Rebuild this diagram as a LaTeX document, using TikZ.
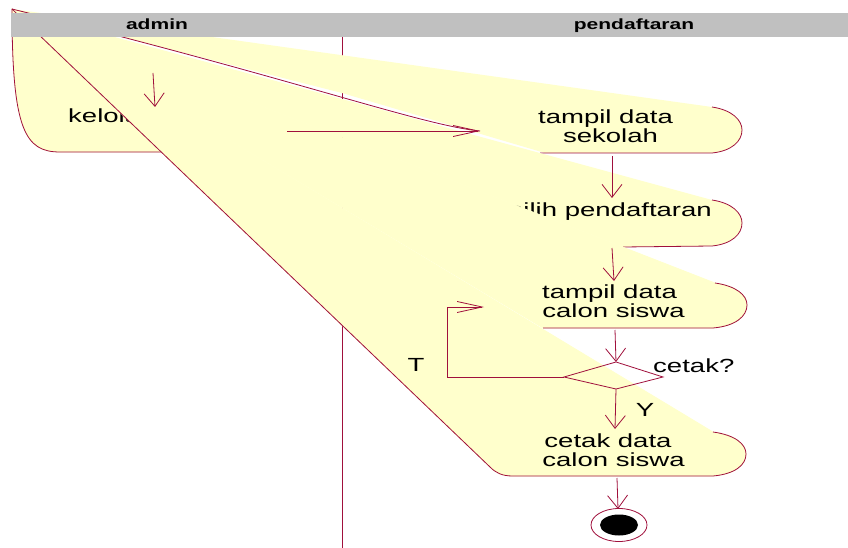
\documentclass[tikz,border=0pt]{standalone}
\usepackage{fontspec}
\setmainfont{Liberation Sans}
\newfontfamily\bodyfont[FakeStretch=1.45]{Liberation Sans}
\newfontfamily\headfont[FakeStretch=1.42]{Liberation Sans}
\usetikzlibrary{arrows.meta}
\definecolor{rose}{RGB}{160,16,60}
\definecolor{act}{RGB}{255,255,204}
\definecolor{hdr}{RGB}{192,192,192}
\begin{document}
\begin{tikzpicture}[x=1pt,y=-1pt,
  line/.style={draw=rose,line width=0.8pt},
  actfill/.style={fill=act,draw=act,line width=0.7pt,line join=round},
  vflow/.style={line,-{Straight Barb[length=13pt,width=20pt]}},
  hflow/.style={line,-{Straight Barb[length=25pt,width=11pt]}},
  txt/.style={font=\bodyfont\fontsize{19}{20}\selectfont,inner sep=0pt,anchor=base},
  hdrtxt/.style={font=\headfont\bfseries\fontsize{14.8}{16}\selectfont,inner sep=0pt,anchor=base}]
\useasboundingbox (0,0) rectangle (848,548);
\fill[white] (0,0) rectangle (848,548);
\coordinate (O) at (12,9);
% lane divider
\coordinate (laneTop) at (342,37);
\coordinate (laneBot) at (342,548);
\draw[line] (laneTop) -- (laneBot);
% kelola
\path[actfill] (O) .. controls (12,130) and (25,152) .. (60,152) -- (163,152) -- cycle;
\draw[line] (O) .. controls (12,130) and (25,152) .. (60,152) -- (163,152);
\node[txt,anchor=base west] (kelola) at (68,123) {kelola};
% tampil data sekolah
\fill[act] (O) -- (712,107) .. controls (732,110) and (742,120) .. (742,130) .. controls (742,141) and (732,151) .. (712,153) -- (545,153) -- (342,93) -- cycle;
\draw[line] (712,107) .. controls (732,110) and (742,120) .. (742,130) .. controls (742,141) and (732,151) .. (712,153) -- (540,153);
\node[txt] (sek1) at (605.5,124) {tampil data};
\node[txt] (sek2) at (610.5,143) {sekolah};
% pilih pendaftaran
\fill[act] (O) -- (712,200) .. controls (732,203) and (742,213) .. (742,223) .. controls (742,234) and (732,244) .. (712,246) -- (623,247) -- cycle;
\draw[line] (712,200) .. controls (732,203) and (742,213) .. (742,223) .. controls (742,234) and (732,244) .. (712,246) -- (623,247);
\node[txt] (pil) at (610,216) {pilih pendaftaran};
% tampil data calon siswa
\path[actfill] (O) -- (715,283) .. controls (736,286) and (747,295) .. (747,305) .. controls (747,316) and (736,326) .. (713,328) -- (543,328) -- cycle;
\draw[line] (715,283) .. controls (736,286) and (747,295) .. (747,305) .. controls (747,316) and (736,326) .. (713,328) -- (543,328);
\node[txt] (cal1) at (609.5,298) {tampil data};
\node[txt] (cal2) at (613.5,317) {calon siswa};
% cetak data calon siswa
\path[actfill] (O) -- (713,432) .. controls (735,435) and (746,444) .. (746,454) .. controls (746,465) and (735,474) .. (713,476) -- (513,476) .. controls (502,476) and (496,473) .. (490,467) -- cycle;
\draw[line] (713,432) .. controls (735,435) and (746,444) .. (746,454) .. controls (746,465) and (735,474) .. (713,476) -- (513,476) .. controls (502,476) and (496,473) .. (490,467) -- (O);
\node[txt] (cet1) at (608,447) {cetak data};
\node[txt] (cet2) at (613.5,466) {calon siswa};
% connectors
\coordinate (a0s) at (153,73); \coordinate (a0e) at (155,107);
\draw[vflow] (a0s) -- (a0e);
\coordinate (trEnd) at (480,131);
\coordinate (trStart) at (287,131);
\draw[line] (O) .. controls (300,80) and (420,125) .. (trEnd);
\draw[hflow] (trStart) -- (trEnd);
\coordinate (sekB) at (612,156); \coordinate (pilT) at (612,198);
\draw[vflow] (sekB) -- (pilT);
\coordinate (pilB) at (612,248); \coordinate (calT) at (614,281);
\draw[vflow] (pilB) -- (calT);
\coordinate (calB) at (615,330);
\coordinate (dT) at (616,362); \coordinate (dR) at (663,377);
\coordinate (dB) at (616,389); \coordinate (dL) at (564,377);
\draw[vflow] (calB) -- (dT);
\draw[line] (dT) -- (dR) -- (dB) -- (dL) -- cycle;
\coordinate (cetT) at (615,429);
\draw[vflow] (dB) -- (cetT);
\coordinate (loopA) at (447,377); \coordinate (loopB) at (447,307);
\coordinate (calL) at (484,307);
\draw[line] (dL) -- (loopA) -- (loopB);
\draw[hflow] (loopB) -- (calL);
\node[txt] (T) at (416,371) {T};
\node[txt] (Y) at (645,416) {Y};
\node[txt,anchor=base west] (q) at (653,372) {cetak?};
\coordinate (cetB) at (617,478); \coordinate (finT) at (618,509);
\draw[vflow] (cetB) -- (finT);
\coordinate (fin) at (619,525);
\draw[line,fill=white] (fin) ellipse [x radius=28pt, y radius=16.5pt];
\fill[black] (fin) ellipse [x radius=19pt, y radius=10.5pt];
% header
\fill[hdr] (11,13) rectangle (848,37);
\node[hdrtxt] (hadmin) at (157,29.5) {admin};
\node[hdrtxt] (hpend) at (634,29.5) {pendaftaran};
\end{tikzpicture}
\end{document}
